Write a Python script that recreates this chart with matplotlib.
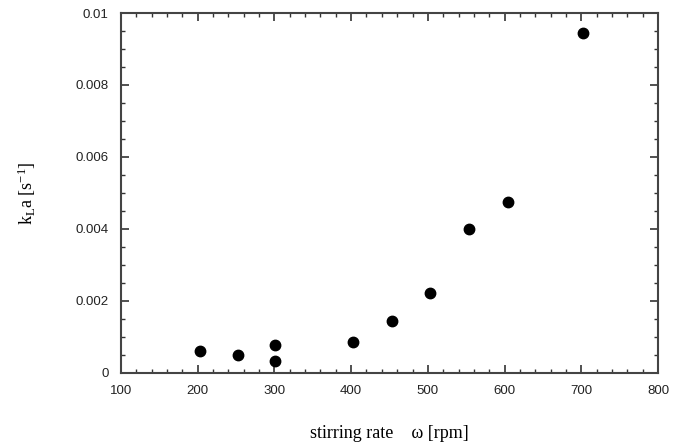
import matplotlib
import matplotlib.pyplot as plt
from matplotlib.ticker import MultipleLocator, FuncFormatter

matplotlib.use('agg')
plt.rcParams['mathtext.fontset'] = 'custom'
plt.rcParams['mathtext.rm'] = 'Liberation Serif'
plt.rcParams['mathtext.it'] = 'Liberation Serif:italic'

# stirring rate [rpm] and kLa [1/s]
stirring_rate = [203, 253, 301, 301, 403, 453, 503, 553, 605, 702]
kla = [0.00062, 0.00051, 0.00078, 0.00034, 0.00085, 0.00145, 0.00223, 0.00401, 0.00474, 0.00944]

x_ticks = [100, 200, 300, 400, 500, 600, 700, 800]
y_ticks = [0, 0.002, 0.004, 0.006, 0.008, 0.01]


def y_fmt(v, pos):
    if abs(v) < 1e-12:
        return '0'
    return ('%.3f' % v).rstrip('0')


fig = plt.figure(figsize=(6.77, 4.44), dpi=100)
ax = fig.add_axes([0.1787, 0.16, 0.7933, 0.8107])

ax.plot(stirring_rate, kla, 'o', color='black', markersize=7.5)

ax.set_xlim(100, 800)
ax.set_ylim(0, 0.01)
ax.set_xticks(x_ticks)
ax.set_yticks(y_ticks)
ax.xaxis.set_minor_locator(MultipleLocator(20))
ax.yaxis.set_minor_locator(MultipleLocator(0.0005))
ax.yaxis.set_major_formatter(FuncFormatter(y_fmt))

ax.tick_params(which='both', direction='in', top=True, right=True, colors='#333333',
               labelcolor='#222222', labelsize=9.5)
ax.tick_params(which='major', length=6, width=1.2)
ax.tick_params(which='minor', length=3, width=1.0)
ax.tick_params(axis='x', pad=9)
ax.tick_params(axis='y', pad=9)
for lab in ax.get_xticklabels() + ax.get_yticklabels():
    lab.set_family('Liberation Sans')

for sp in ax.spines.values():
    sp.set_linewidth(1.5)
    sp.set_color('#444444')

ax.set_xlabel('stirring rate    ω [rpm]', family='Liberation Serif', fontsize=13,
              labelpad=20)
ax.set_ylabel(r'k$_\mathrm{L}$a [s$^{-1}$]', family='Liberation Serif', fontsize=13,
              labelpad=27)

fig.savefig('out.png', dpi=100)
